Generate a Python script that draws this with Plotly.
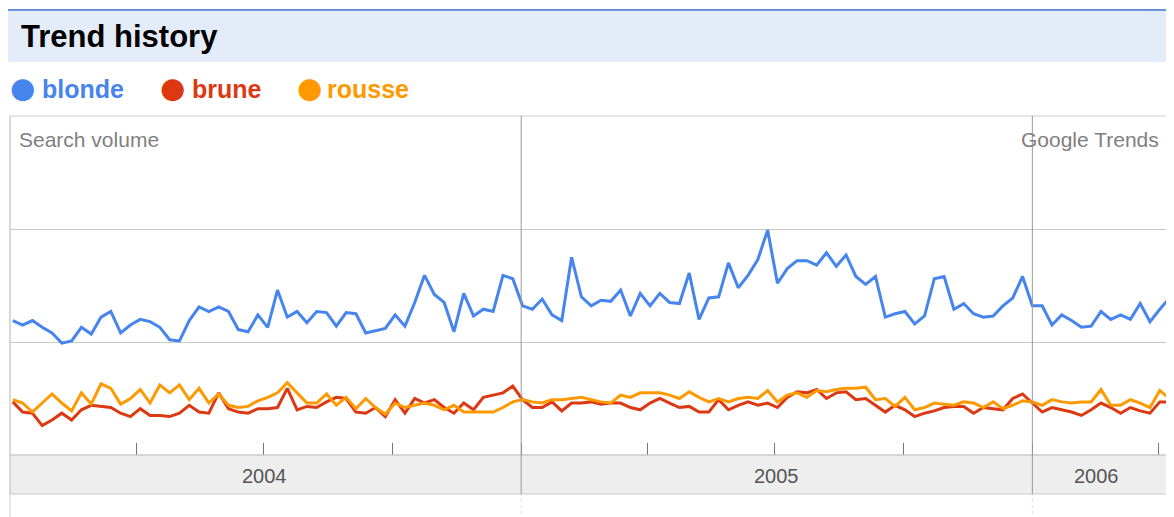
import plotly.graph_objects as go
import pandas as pd

# ---------------- data (weekly) ----------------
weeks = pd.date_range("2004-01-04", periods=119, freq="7D")

blonde = [1.19, 1.15, 1.19, 1.13, 1.08, 0.99, 1.01, 1.13, 1.07, 1.22,
          1.27, 1.08, 1.15, 1.20, 1.18, 1.13, 1.02, 1.01, 1.19, 1.31,
          1.27, 1.31, 1.27, 1.11, 1.09, 1.24, 1.13, 1.46, 1.22, 1.27,
          1.17, 1.27, 1.26, 1.14, 1.26, 1.25, 1.08, 1.10, 1.12, 1.24,
          1.14, 1.35, 1.59, 1.42, 1.35, 1.09, 1.43, 1.23, 1.29, 1.27,
          1.59, 1.56, 1.32, 1.29, 1.38, 1.24, 1.19, 1.75, 1.40, 1.32,
          1.37, 1.36, 1.46, 1.23, 1.43, 1.32, 1.43, 1.35, 1.34, 1.61,
          1.20, 1.39, 1.40, 1.70, 1.48, 1.59, 1.73, 1.99, 1.52, 1.65,
          1.72, 1.72, 1.68, 1.79, 1.67, 1.77, 1.58, 1.51, 1.58, 1.22,
          1.25, 1.27, 1.16, 1.23, 1.56, 1.58, 1.29, 1.34, 1.25, 1.22,
          1.23, 1.32, 1.39, 1.58, 1.32, 1.32, 1.15, 1.24, 1.19, 1.13,
          1.14, 1.27, 1.20, 1.24, 1.20, 1.34, 1.18, 1.29, 1.39]

brune = [0.47, 0.38, 0.37, 0.26, 0.31, 0.37, 0.31, 0.40, 0.44, 0.43,
         0.42, 0.37, 0.34, 0.41, 0.35, 0.35, 0.34, 0.37, 0.44, 0.38,
         0.37, 0.55, 0.41, 0.38, 0.37, 0.41, 0.41, 0.42, 0.59, 0.40,
         0.43, 0.42, 0.47, 0.51, 0.50, 0.38, 0.37, 0.42, 0.34, 0.49,
         0.37, 0.50, 0.46, 0.49, 0.42, 0.37, 0.46, 0.40, 0.51, 0.53,
         0.55, 0.61, 0.49, 0.42, 0.42, 0.47, 0.39, 0.46, 0.46, 0.47,
         0.45, 0.46, 0.46, 0.42, 0.40, 0.46, 0.50, 0.46, 0.42, 0.43,
         0.38, 0.38, 0.49, 0.40, 0.44, 0.47, 0.44, 0.46, 0.42, 0.51,
         0.56, 0.55, 0.58, 0.50, 0.55, 0.56, 0.49, 0.50, 0.44, 0.38,
         0.44, 0.40, 0.34, 0.37, 0.39, 0.42, 0.43, 0.43, 0.37, 0.42,
         0.41, 0.40, 0.50, 0.54, 0.46, 0.38, 0.42, 0.40, 0.38, 0.35,
         0.40, 0.46, 0.42, 0.37, 0.42, 0.39, 0.37, 0.47, 0.47]

rousse = [0.49, 0.46, 0.38, 0.46, 0.54, 0.46, 0.39, 0.55, 0.45, 0.63,
          0.59, 0.45, 0.50, 0.58, 0.46, 0.62, 0.55, 0.62, 0.49, 0.59,
          0.46, 0.54, 0.44, 0.42, 0.43, 0.48, 0.51, 0.55, 0.64, 0.55,
          0.46, 0.46, 0.54, 0.44, 0.51, 0.41, 0.50, 0.42, 0.36, 0.46,
          0.42, 0.44, 0.46, 0.44, 0.40, 0.44, 0.38, 0.38, 0.38, 0.38,
          0.42, 0.47, 0.49, 0.47, 0.46, 0.49, 0.49, 0.50, 0.51, 0.49,
          0.47, 0.46, 0.53, 0.51, 0.55, 0.55, 0.55, 0.53, 0.50, 0.56,
          0.51, 0.47, 0.50, 0.47, 0.50, 0.51, 0.50, 0.57, 0.47, 0.53,
          0.55, 0.51, 0.57, 0.56, 0.58, 0.59, 0.59, 0.60, 0.49, 0.50,
          0.43, 0.51, 0.40, 0.42, 0.46, 0.45, 0.44, 0.47, 0.46, 0.42,
          0.47, 0.41, 0.44, 0.48, 0.47, 0.44, 0.49, 0.47, 0.46, 0.47,
          0.47, 0.58, 0.44, 0.44, 0.49, 0.46, 0.42, 0.57, 0.50]

series_names = ["blonde", "brune", "rousse"]
series_values = [blonde, brune, rousse]
series_colors = ["#4684EE", "#DC3912", "#FF9900"]

year_labels = ["2004", "2005", "2006"]
year_label_dates = ["2004-07-02", "2005-07-02", "2006-02-16"]
year_starts = ["2005-01-01", "2006-01-01"]

# ---------------- figure ----------------
# the page body adds an 8px offset, so the figure is 8px smaller
OFF = 8
W, H = 1174 - OFF, 517 - OFF
PLOT_L, PLOT_R, PLOT_T, PLOT_B = 10, 1171, 116, 455   # page pixels
L, T = PLOT_L - OFF, PLOT_T - OFF
R, B = W - (PLOT_R - OFF), H - (PLOT_B - OFF)
PW, PH = PLOT_R - PLOT_L, PLOT_B - PLOT_T


def px_x(px):
    return (px - PLOT_L) / PW


def px_y(py):
    return (PLOT_B - py) / PH


FONT = "Arial, Liberation Sans, sans-serif"

fig = go.Figure()
for name, vals, col in zip(series_names, series_values, series_colors):
    fig.add_trace(go.Scatter(x=weeks, y=vals, mode="lines", name=name,
                             line=dict(color=col, width=3),
                             showlegend=False))

shapes = []
# title band and top blue rule
shapes.append(dict(type="rect", xref="paper", yref="paper",
                   x0=px_x(8), x1=px_x(1180), y0=px_y(62), y1=px_y(10),
                   fillcolor="#E5ECF9", line=dict(width=0), layer="below"))
shapes.append(dict(type="line", xref="paper", yref="paper",
                   x0=px_x(8), x1=px_x(1180), y0=px_y(10), y1=px_y(10),
                   line=dict(color="#6A93DB", width=2)))
# gray band under the plot
shapes.append(dict(type="rect", xref="paper", yref="paper",
                   x0=0, x1=1, y0=px_y(494), y1=0,
                   fillcolor="#EEEEEE", line=dict(color="#CCCCCC", width=1),
                   layer="below"))
# outer frame sides below band
for xp in (0, 1):
    shapes.append(dict(type="line", xref="paper", yref="paper",
                       x0=xp, x1=xp, y0=px_y(520), y1=1,
                       line=dict(color="#CCCCCC", width=1)))
# plot border
shapes.append(dict(type="rect", xref="paper", yref="paper",
                   x0=0, x1=1, y0=0, y1=1,
                   line=dict(color="#CCCCCC", width=1)))
# year boundary lines
for d in year_starts:
    shapes.append(dict(type="line", xref="x", yref="paper",
                       x0=d, x1=d, y0=px_y(494), y1=1,
                       line=dict(color="#999999", width=1)))
    shapes.append(dict(type="line", xref="x", yref="paper",
                       x0=d, x1=d, y0=px_y(520), y1=px_y(494),
                       line=dict(color="#DDDDDD", width=1, dash="dot")))

annotations = []
# legend
legend_dot_left_px = [9, 159, 296]
legend_txt_px = [40, 190, 325]
for name, col, dx, tx in zip(series_names, series_colors, legend_dot_left_px, legend_txt_px):
    annotations.append(dict(xref="paper", yref="paper", x=px_x(dx), y=px_y(88),
                            text="●", showarrow=False, xanchor="left",
                            yanchor="middle", borderpad=0,
                            font=dict(family="DejaVu Sans", size=29, color=col)))
    annotations.append(dict(xref="paper", yref="paper", x=px_x(tx), y=px_y(89),
                            text="<b>%s</b>" % name, showarrow=False,
                            xanchor="left", yanchor="middle",
                            font=dict(family=FONT, size=25, color=col)))
# corner captions
annotations.append(dict(xref="paper", yref="paper", x=px_x(17), y=px_y(126),
                        text="Search volume", showarrow=False,
                        xanchor="left", yanchor="top",
                        font=dict(family=FONT, size=21, color="#808080")))
annotations.append(dict(xref="paper", yref="paper", x=px_x(1161), y=px_y(126),
                        text="Google Trends", showarrow=False,
                        xanchor="right", yanchor="top",
                        font=dict(family=FONT, size=21, color="#808080")))
# year labels in the band
for lab, d in zip(year_labels, year_label_dates):
    annotations.append(dict(xref="x", yref="paper", x=d, y=px_y(476),
                            text=lab, showarrow=False,
                            xanchor="center", yanchor="middle",
                            font=dict(family=FONT, size=20, color="#555555")))

fig.update_layout(
    width=W, height=H,
    margin=dict(l=L, r=R, t=T, b=B, pad=0),
    paper_bgcolor="white", plot_bgcolor="white",
    title=dict(text="<b>Trend history</b>", xref="container", yref="container",
               x=(21 - OFF) / W, xanchor="left", y=1 - (36 - OFF) / H,
               yanchor="middle",
               font=dict(family=FONT, size=31, color="#000000")),
    xaxis=dict(type="date", range=["2004-01-02", "2006-04-10"],
               showgrid=False, zeroline=False, showline=False,
               showticklabels=False,
               tickmode="array", tickvals=year_starts,
               ticks="inside", ticklen=12, tickcolor="#777777", tickwidth=1,
               minor=dict(dtick="M3", tick0="2004-01-01", ticks="inside",
                          ticklen=12, tickcolor="#777777", tickwidth=1,
                          showgrid=False)),
    yaxis=dict(range=[0, 3], tickmode="array", tickvals=[1, 2],
               showgrid=True, gridcolor="#C8C8C8", gridwidth=1,
               showticklabels=False, zeroline=False, showline=False,
               fixedrange=True),
    shapes=shapes,
    annotations=annotations,
    showlegend=False,
)

fig.write_html("out.html")
